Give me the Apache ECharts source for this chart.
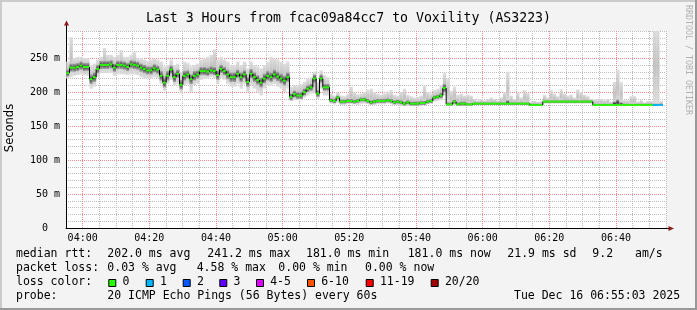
<!DOCTYPE html>
<html><head><meta charset="utf-8">
<script src="https://cdn.jsdelivr.net/npm/echarts@6/dist/echarts.min.js"></script>
<style>html,body{margin:0;padding:0;background:#f3f3f3}#c{width:697px;height:310px}</style>
</head><body><div id="c"></div><script>
// one sample per minute, first sample at 03:55:03 (minutes relative to 04:00)
const firstSampleMin = -4.95;
const medianRtt = [
228,236,236,237,239,237,237,219,222,234,
240,240,240,241,236,240,240,239,237,241,
240,239,236,234,232,232,235,233,224,214,
224,233,222,227,211,224,226,219,224,226,
231,231,230,232,231,225,234,231,226,222,
222,227,222,226,215,227,222,218,214,220,
224,222,226,223,220,217,222,193,197,195,
195,200,205,207,220,198,220,207,207,188,
187,192,186,186,187,187,186,187,189,189,
187,185,186,187,187,187,188,187,185,186,
185,183,185,183,183,183,184,184,186,187,
192,193,195,206,182,182,186,182,183,183,
182,182,183,183,183,183,183,183,183,183,
183,183,183,183,183,183,183,183,183,181,
181,181,181,186,186,186,186,186,186,186,
186,186,186,186,186,186,186,186,181,181,
181,181,181,181,181,181,181,181,181,181,
181,181,181,181,181,181,181,181,181];
const smokeHi = [
245,281,250,252,252,250,250,240,242,248,
252,265,255,255,252,255,262,252,252,255,
259,250,250,248,246,248,250,248,245,238,
240,248,240,242,230,245,243,238,240,242,
248,250,252,255,263,248,252,248,245,240,
240,245,240,245,235,245,240,238,235,240,
245,252,250,248,245,242,245,208,210,210,
212,215,220,222,230,215,232,225,222,198,
195,200,195,194,197,208,200,197,198,200,
203,205,200,198,196,198,201,203,196,195,
200,205,196,194,192,193,195,209,200,198,
203,205,210,228,220,202,208,196,198,195,
196,195,190,188,190,188,190,192,190,188,
192,200,230,195,190,199,192,203,199,186,
187,186,187,196,192,203,198,194,204,198,
195,196,192,204,200,196,194,190,189,189,
190,188,190,186,215,233,215,188,188,194,
194,186,188,185,187,187,296,296,187];
const smokeLo = [
220,222,224,225,226,225,224,205,208,222,
228,228,228,228,224,226,226,226,225,226,
226,225,222,220,220,220,222,220,212,202,
212,218,210,212,198,210,212,200,210,212,
218,220,220,222,220,212,220,218,212,208,
208,212,205,212,200,210,205,200,195,205,
210,210,212,208,205,200,205,187,188,188,
188,192,195,198,198,190,205,195,195,183,
182,184,181,181,182,182,182,181,182,183,
182,181,181,182,182,182,183,182,181,180,
180,180,180,180,180,180,180,181,182,183,
186,187,188,195,180,180,181,180,180,180,
180,180,181,181,181,181,181,181,181,181,
181,181,181,181,181,181,181,181,181,180,
180,180,180,183,183,183,183,183,183,183,
183,183,183,183,183,183,183,183,180,180,
180,180,180,180,180,180,180,180,180,180,
180,180,180,180,180,180,180,180,180];
const coreHalf = [
5,6,6,6,6,6,6,7,7,6,
6,6,6,6,6,6,6,6,6,6,
6,6,6,6,6,6,6,6,7,7,
7,6,7,6,7,7,6,7,7,6,
6,6,6,6,6,7,6,6,7,7,
7,6,7,6,7,7,7,7,7,7,
7,7,7,7,7,7,7,5,5,5,
5,5,5,5,6,5,6,5,5,3,
3,3,3,3,3,3,3,3,3,3,
3,3,3,3,3,3,3,3,3,3,
3,3,3,3,3,3,3,3,3,3,
3,3,4,6,3,3,3,3,3,3,
2,2,2,2,2,2,2,2,2,2,
2,2,5,2,2,2,2,2,2,2,
2,2,2,2,2,2,2,2,2,2,
2,2,2,2,2,2,2,2,2,2,
2,2,2,2,5,8,4,2,2,2,
2,2,2,2,2,2,2,2,2];
const lossCount = [
0,0,0,0,0,0,0,0,0,0, 0,0,0,0,0,0,0,0,0,0,
0,0,0,0,0,0,0,0,0,0, 0,0,0,0,0,0,0,0,0,0,
0,0,0,0,0,0,0,0,0,0, 0,0,0,0,0,0,0,0,0,0,
0,0,0,0,0,0,0,0,0,0, 0,0,0,0,0,0,0,0,0,0,
0,0,0,0,0,0,0,0,0,0, 0,0,0,0,0,0,0,0,0,0,
0,0,0,0,0,0,0,0,0,0, 0,0,0,0,0,0,0,0,0,0,
0,0,0,0,0,0,0,0,0,0, 0,0,0,0,0,0,0,0,0,0,
0,0,0,0,0,0,0,0,0,0, 0,0,0,0,0,0,0,0,0,0,
0,0,0,0,0,0,0,0,0,0, 0,0,0,0,0,0,1,1,1];
const xTickLabels = ['04:00','04:20','04:40','05:00','05:20','05:40','06:00','06:20','06:40'];
const lossLegend = [['0','#26ff00'],['1','#00b8ff'],['2','#0059ff'],['3','#5e00ff'],['4-5','#dd00ff'],['6-10','#ff5500'],['11-19','#ff0000'],['20/20','#a10000']];
const statsRtt = ['median rtt:','202.0 ms avg','241.2 ms max','181.0 ms min','181.0 ms now','21.9 ms sd','9.2','am/s'];
const statsLoss = ['packet loss:','0.03 % avg','4.58 % max','0.00 % min','0.00 % now'];
const probeText = ['probe:','20 ICMP Echo Pings (56 Bytes) every 60s','Tue Dec 16 06:55:03 2025'];
const titleText = 'Last 3 Hours from fcac09a84cc7 to Voxility (AS3223)';

const MONO = '"DejaVu Sans Mono", monospace';
const rows = medianRtt.map((m, i) => [firstSampleMin + i, m, smokeLo[i], smokeHi[i], coreHalf[i], lossCount[i], i > 0 ? medianRtt[i-1] : m]);

function renderSample(params, api) {
  const t0 = api.value(0), t1 = t0 + 1;
  const med = api.value(1), lo = api.value(2), hi = api.value(3), w = api.value(4), loss = api.value(5), prev = api.value(6);
  const a = api.coord([t0, hi]), b = api.coord([t1, lo]);
  const ct = api.coord([t0, Math.min(hi, med + w)]), cb = api.coord([t1, Math.max(lo, med - w)]);
  const m0 = api.coord([t0, med]), m1 = api.coord([t1, med]), p = api.coord([t0, prev]);
  const children = [
    {type:'rect', shape:{x:a[0], y:a[1], width:b[0]-a[0], height:b[1]-a[1]},
     style:{fill:{type:'linear',x:0,y:0,x2:0,y2:1,colorStops:[{offset:0,color:'#dedede'},{offset:0.5,color:'#c2c2c2'},{offset:1,color:'#dedede'}]}}},
    {type:'rect', shape:{x:ct[0], y:ct[1], width:cb[0]-ct[0], height:cb[1]-ct[1]},
     style:{fill:{type:'linear',x:0,y:0,x2:0,y2:1,colorStops:[{offset:0,color:'#a8a8a8'},{offset:0.5,color:'#3c3c3c'},{offset:1,color:'#a8a8a8'}]}}},
    {type:'line', shape:{x1:m0[0], y1:p[1], x2:m0[0], y2:m0[1]}, style:{stroke:'#000', lineWidth:1}},
    {type:'rect', shape:{x:m0[0], y:m0[1]-1, width:m1[0]-m0[0], height:2}, style:{fill:lossLegend[loss][1]}}
  ];
  return {type:'group', children};
}

const gray = '#bdbdbd', red = '#ef8a8a';
const graphics = [];
function txt(x, y, s, opt) {
  graphics.push(Object.assign({type:'text', x, y, silent:true, style:{text:s, font:'11.5px ' + MONO, fill:'#000', textAlign:'left', textVerticalAlign:'middle'}}, opt || {}));
}
// frame
graphics.push({type:'rect', shape:{x:0,y:0,width:697,height:2}, style:{fill:'#cbcbcb'}, silent:true});
graphics.push({type:'rect', shape:{x:0,y:0,width:2,height:310}, style:{fill:'#cbcbcb'}, silent:true});
graphics.push({type:'rect', shape:{x:0,y:308,width:697,height:2}, style:{fill:'#999999'}, silent:true});
graphics.push({type:'rect', shape:{x:695,y:0,width:2,height:310}, style:{fill:'#999999'}, silent:true});
// title & axis name
txt(348.5, 18.5, titleText, {style:{text:titleText, font:'13.2px ' + MONO, fill:'#000', textAlign:'center', textVerticalAlign:'middle'}});
txt(10.5, 128, 'Seconds', {rotation:Math.PI/2, style:{text:'Seconds', font:'11.5px "DejaVu Sans"', fill:'#000', textAlign:'center', textVerticalAlign:'middle'}});
txt(688.5, 60, 'RRDTOOL / TOBI OETIKER', {rotation:-Math.PI/2, style:{text:'RRDTOOL / TOBI OETIKER', font:'8.3px ' + MONO, fill:'#b0b0b0', textAlign:'center', textVerticalAlign:'middle'}});
// axis arrows
graphics.push({type:'line', shape:{x1:66.5,y1:31,x2:66.5,y2:24}, style:{stroke:'#000',lineWidth:1}, silent:true, z:10});
graphics.push({type:'polygon', shape:{points:[[66.5,20.5],[64,25.5],[69,25.5]]}, style:{fill:'#8b1a1a'}, silent:true, z:10});
graphics.push({type:'line', shape:{x1:666,y1:228.5,x2:669,y2:228.5}, style:{stroke:'#000',lineWidth:1}, silent:true, z:10});
graphics.push({type:'polygon', shape:{points:[[674,228.5],[668.5,226],[668.5,231]]}, style:{fill:'#8b1a1a'}, silent:true, z:10});
// legend rows
const rttX = [16,107.3,207.3,306,407.7,507.3,592.3,635];
statsRtt.forEach((s, k) => txt(rttX[k], 254.5, s));
const lossX = [16,107.3,196.7,278.3,365];
statsLoss.forEach((s, k) => txt(lossX[k], 268.5, s));
txt(16, 282.5, 'loss color:');
const boxX = [108.3,145.7,182.7,219.3,256,307,365.7,430.7];
lossLegend.forEach((e, k) => {
  graphics.push({type:'rect', shape:{x:boxX[k]+0.5, y:279.5, width:7, height:7}, style:{fill:e[1], stroke:'#000', lineWidth:1}, silent:true});
  txt(boxX[k] + 14.2, 282.5, e[0]);
});
const probeX = [16,107.3,514];
probeText.forEach((s, k) => txt(probeX[k], 296.5, s));

const chart = echarts.init(document.getElementById('c'), null, {renderer:'canvas'});
chart.setOption({
  backgroundColor:'#f3f3f3',
  animation:false,
  grid:{left:66, top:31, width:600, height:197, show:true, backgroundColor:'#ffffff', borderWidth:0},
  xAxis:{type:'value', min:-5, max:175, interval:5,
    axisLine:{show:true, onZero:false, lineStyle:{color:'#000', width:1}},
    axisTick:{show:false},
    axisLabel:{margin:5, fontSize:10, fontFamily:MONO, color:'#000', showMinLabel:true, showMaxLabel:true,
      formatter:v => (v >= 0 && v % 20 === 0 && xTickLabels[v/20]) ? xTickLabels[v/20] : ''},
    splitLine:{show:true, lineStyle:{color:[gray, red, gray, gray], type:[1,1], width:1}}},
  yAxis:{type:'value', min:0, max:290, interval:10,
    axisLine:{show:true, onZero:false, lineStyle:{color:'#000', width:1}},
    axisTick:{show:false},
    axisLabel:{margin:6, fontSize:10, fontFamily:MONO, color:'#000',
      formatter:v => v % 50 === 0 ? (v === 0 ? '0  ' : v + ' m') : ''},
    splitLine:{show:true, lineStyle:{color:[red, gray, gray, gray, gray], type:[1,1], width:1}}},
  series:[{type:'custom', renderItem:renderSample, data:rows, encode:{x:0, y:1}, clip:true, silent:true}],
  graphic:graphics
});
</script></body></html>
